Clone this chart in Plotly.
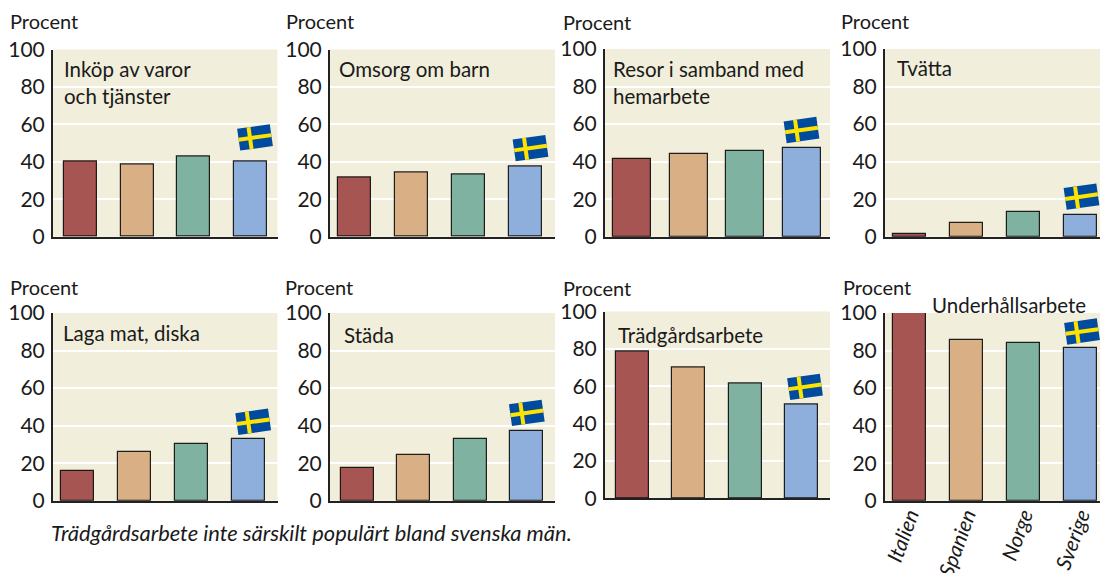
import base64
import plotly.graph_objects as go

W, H = 1100, 573
FONT = "Lato"

countries = ["Italien", "Spanien", "Norge", "Sverige"]
colors = ["#A65552", "#D9AF85", "#7FB2A0", "#8EAEDC"]
ticks = [0, 20, 40, 60, 80, 100]

titles = ["Inköp av varor<br>och tjänster", "Omsorg om barn", "Resor i samband med<br>hemarbete", "Tvätta",
          "Laga mat, diska", "Städa", "Trädgårdsarbete", "Underhållsarbete"]
inkop = [40.1, 38.7, 42.9, 40.1]
omsorg = [31.6, 34.5, 33.0, 37.3]
resor = [41.2, 44.2, 45.5, 47.0]
tvatta = [1.6, 7.3, 13.0, 11.5]
laga = [15.9, 25.8, 30.1, 32.9]
stada = [17.3, 24.4, 32.9, 37.2]
tradgard = [78.8, 70.2, 61.7, 50.3]
underhall = [100.0, 85.5, 84.0, 81.2]
series = [inkop, omsorg, resor, tvatta, laga, stada, tradgard, underhall]

# panel layout, pixels: left, right, y100, y0, first bar centre, last bar centre, bar width,
# title x, title y, "Procent" x, y, flag dx, flag dy
panels = [
    (53, 277.5, 49.5, 236.7, 80.5, 250.5, 33, 62, 68.5, 8, 21, 4.5, 24.2),
    (330, 555, 49.5, 236.7, 354.5, 525.5, 33, 337, 68.5, 284, 21, 5, 18.8),
    (605, 830, 49, 236.7, 632, 801.5, 38, 611, 67.5, 561, 22, 0, 18.5),
    (885, 1100, 49, 236.7, 909.5, 1080, 33, 895, 67.5, 839, 21, 1.5, 18.5),
    (53, 277.5, 313, 500.7, 77.5, 248.2, 33, 61, 331.5, 8, 287, 5, 17.2),
    (330, 555, 313, 500.7, 357.5, 526.8, 33, 342, 333.5, 283, 287, 0, 18),
    (605, 830, 311.5, 498.3, 632.3, 801.5, 33, 616, 333.5, 561, 288, 3.5, 17.5),
    (885, 1100, 313, 500.7, 909.5, 1080.5, 33, 930, 303.5, 841, 287, 1.5, 16.8),
]

flag_svg = ('<svg xmlns="http://www.w3.org/2000/svg" viewBox="0 0 38 28" width="38" height="28">'
            '<g transform="rotate(-8 19 14)"><rect x="2.5" y="3" width="33" height="22" fill="#004B9E"/>'
            '<rect x="12" y="3" width="4" height="22" fill="#FFE300"/>'
            '<rect x="2.5" y="12" width="33" height="4" fill="#FFE300"/></g></svg>')
flag_uri = "data:image/svg+xml;base64," + base64.b64encode(flag_svg.encode()).decode()

fig = go.Figure()
annotations, images = [], []


def px(x):
    return x / W


def py(y):
    return 1 - y / H


for i, (title, vals, p) in enumerate(zip(titles, series, panels)):
    left, right, y100, y0, c0, c3, bw, tx, ty, px_x, px_y, fdx, fdy = p
    suffix = "" if i == 0 else str(i + 1)
    unit = (c3 - c0) / 3
    scale = (y0 - y100) / 100
    fig.add_trace(go.Bar(
        x=countries, y=vals, width=bw / unit,
        marker=dict(color=colors, line=dict(color="rgba(10,10,10,0.9)", width=1.2)),
        xaxis="x" + suffix, yaxis="y" + suffix, showlegend=False,
    ))
    fig.layout["xaxis" + suffix] = dict(
        domain=[px(left), px(right)], anchor="y" + suffix, type="category",
        categoryorder="array", categoryarray=countries, automargin=False,
        range=[(left - c0) / unit, (right - c0) / unit],
        showgrid=False, zeroline=False, showline=True, linecolor="#222", linewidth=2,
        ticks="", showticklabels=(i == 7), tickangle=-70, ticklabelstandoff=-8,
        tickfont=dict(family=FONT, size=21, color="#1a1a1a", style="italic"),
    )
    fig.layout["yaxis" + suffix] = dict(
        domain=[py(y0), py(y100)], anchor="x" + suffix, range=[0, 100], automargin=False,
        tickvals=ticks, ticktext=[str(t) for t in ticks],
        showgrid=True, gridcolor="white", gridwidth=1.5, zeroline=False,
        showline=True, linecolor="#222", linewidth=2, ticks="", ticklabelstandoff=2,
        tickfont=dict(family=FONT, size=21, color="#1a1a1a"),
    )
    annotations.append(dict(text=title, x=px(tx), y=py(ty - 13), xref="paper", yref="paper",
                            xanchor="left", yanchor="top", showarrow=False, align="left",
                            font=dict(family=FONT, size=20.5, color="#1a1a1a")))
    annotations.append(dict(text="Procent", x=px(px_x), y=py(px_y), xref="paper", yref="paper",
                            xanchor="left", yanchor="middle", showarrow=False,
                            font=dict(family=FONT, size=20, color="#1a1a1a")))
    # flag sits just above the Sverige bar
    fy = y0 - vals[3] * scale - fdy
    images.append(dict(source=flag_uri, xref="paper", yref="paper",
                       x=px(c3 + fdx), y=py(fy), sizex=38 / W, sizey=28 / H,
                       xanchor="center", yanchor="middle", sizing="contain", layer="above"))

annotations.append(dict(text="Trädgårdsarbete inte särskilt populärt bland svenska män.",
                        x=px(49), y=py(532), xref="paper", yref="paper", xanchor="left",
                        yanchor="middle", showarrow=False,
                        font=dict(family=FONT, size=21.9, color="#1a1a1a", style="italic")))

fig.update_layout(width=W, height=H, margin=dict(l=0, r=0, t=0, b=0), autosize=False,
                  paper_bgcolor="white", plot_bgcolor="#F1EEDB", bargap=0,
                  annotations=annotations, images=images, showlegend=False)
fig.write_html("out.html", config=dict(displayModeBar=False),
               post_script="document.body.style.margin='0';")
